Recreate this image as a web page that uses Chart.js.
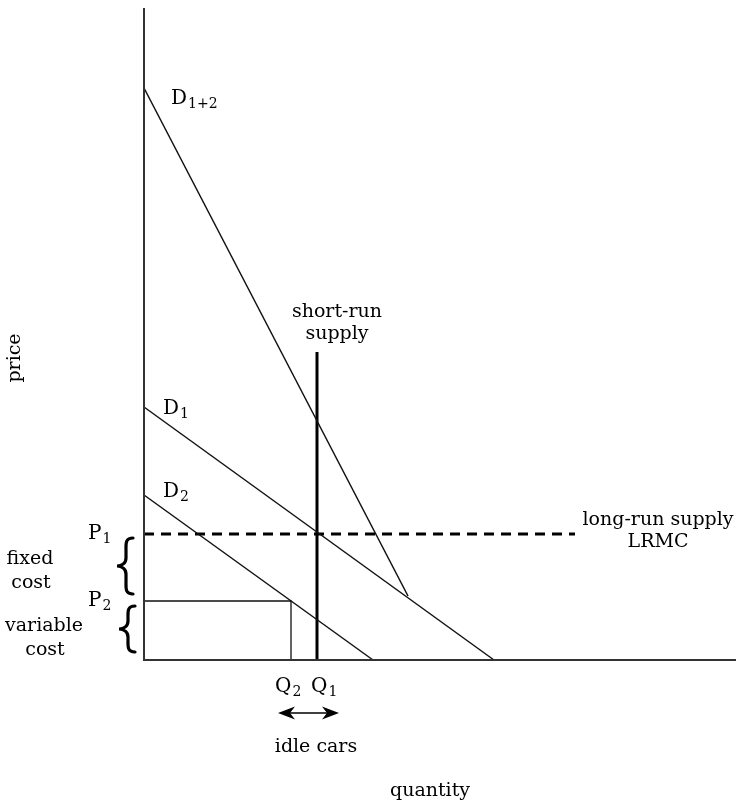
<!DOCTYPE html>
<html>
<head>
<meta charset="utf-8">
<script src="https://cdn.jsdelivr.net/npm/chart.js@4.4.1/dist/chart.umd.min.js"></script>
<style>
  html, body { margin: 0; padding: 0; background: #fff; }
  canvas { display: block; }
</style>
</head>
<body>
<canvas id="myChart" width="736" height="801"></canvas>
<script>
// quantity / price in chart units (0,0 = origin)
const qMax = 592;
const pMax = 652;

const d12Q = [0, 264];
const d12P = [572, 64];
const d1Q = [0, 350];
const d1P = [253, 0];
const d2Q = [0, 229];
const d2P = [165, 0];
const supplyQ = [173, 173];
const supplyP = [308, 0];
const lrmcQ = [0, 431];
const lrmcP = [126, 126];
const boxQ = [0, 147, 147];
const boxP = [59, 59, 0];
const axisQ = [0, 0, qMax];
const axisP = [pMax, 0, 0];

// tick-like labels
const qTicks = [{ q: 147, main: 'Q', sub: '2' }, { q: 173, main: 'Q', sub: '1' }];
const pTicks = [{ p: 126, main: 'P', sub: '1' }, { p: 59, main: 'P', sub: '2' }];

const SERIF = '"DejaVu Serif", serif';

function pts(xs, ys) {
  return xs.map((x, i) => ({ x: x, y: ys[i] }));
}

function lineSet(xs, ys, color, width, dash) {
  return {
    data: pts(xs, ys),
    showLine: true,
    borderColor: color,
    borderWidth: width,
    borderDash: dash || [],
    pointRadius: 0,
    fill: false,
    clip: false,
    tension: 0
  };
}

function subText(ctx, x, y, main, sub, size) {
  // main letter + subscript, x = left edge, y = baseline
  ctx.font = size + 'px ' + SERIF;
  ctx.textAlign = 'left';
  ctx.textBaseline = 'alphabetic';
  ctx.fillText(main, x, y);
  const w = ctx.measureText(main).width;
  ctx.font = Math.round(size * 0.68) + 'px ' + SERIF;
  ctx.fillText(sub, x + w + 1, y + 4);
}

function brace(ctx, x, top, bottom) {
  const mid = (top + bottom) / 2;
  const w = 9;
  ctx.save();
  ctx.lineWidth = 3.2;
  ctx.strokeStyle = '#000';
  ctx.lineCap = 'round';
  ctx.beginPath();
  ctx.moveTo(x + w, top);
  ctx.bezierCurveTo(x + 1, top, x + 2, top + 6, x + 2, top + 12);
  ctx.lineTo(x + 2, mid - 8);
  ctx.bezierCurveTo(x + 2, mid - 3, x - 2, mid, x - w + 2, mid);
  ctx.bezierCurveTo(x - 2, mid, x + 2, mid + 3, x + 2, mid + 8);
  ctx.lineTo(x + 2, bottom - 12);
  ctx.bezierCurveTo(x + 2, bottom - 6, x + 1, bottom, x + w, bottom);
  ctx.stroke();
  ctx.restore();
}

function arrowHead(ctx, x, y, dir) {
  ctx.beginPath();
  ctx.moveTo(x, y);
  ctx.lineTo(x - dir * 17, y - 6.5);
  ctx.lineTo(x - dir * 12, y);
  ctx.lineTo(x - dir * 17, y + 6.5);
  ctx.closePath();
  ctx.fill();
}

const labels = {
  id: 'labels',
  afterDatasetsDraw(chart) {
    const ctx = chart.ctx;
    const xs = chart.scales.x;
    const ys = chart.scales.y;
    const X = v => xs.getPixelForValue(v);
    const Y = v => ys.getPixelForValue(v);
    ctx.save();
    ctx.fillStyle = '#000';

    // demand curve labels
    subText(ctx, X(27), Y(556), 'D', '1+2', 20);
    subText(ctx, X(19), Y(246), 'D', '1', 20);
    subText(ctx, X(19), Y(163), 'D', '2', 20);

    ctx.font = '19px ' + SERIF;
    ctx.textAlign = 'center';
    ctx.textBaseline = 'alphabetic';
    ctx.fillText('short-run', X(193), Y(343));
    ctx.fillText('supply', X(193), Y(321));
    ctx.fillText('long-run supply', X(514), Y(135));
    ctx.fillText('LRMC', X(514), Y(113));

    // price tick labels
    pTicks.forEach(t => subText(ctx, X(-56), Y(t.p) + 5, t.main, t.sub, 20));
    // quantity tick labels
    qTicks.forEach((t, i) => subText(ctx, X(t.q) - (i === 0 ? 16 : 6), Y(0) + 32, t.main, t.sub, 20));

    ctx.font = '19px ' + SERIF;
    ctx.textAlign = 'center';
    ctx.fillText('fixed', 30, Y(96));
    ctx.fillText('cost', 31, Y(72));
    ctx.fillText('variable', 44, Y(29));
    ctx.fillText('cost', 45, Y(5));

    brace(ctx, 124, Y(122), Y(66));
    brace(ctx, 126, Y(54), Y(8));

    // idle cars arrow
    const ay = Y(0) + 53;
    ctx.lineWidth = 1.5;
    ctx.strokeStyle = '#000';
    ctx.beginPath();
    ctx.moveTo(X(136) + 6, ay);
    ctx.lineTo(X(194) - 6, ay);
    ctx.stroke();
    arrowHead(ctx, X(134), ay, -1);
    arrowHead(ctx, X(195), ay, 1);
    ctx.fillText('idle cars', X(172), Y(0) + 92);

    ctx.fillText('quantity', X(286), Y(0) + 136);

    ctx.translate(20, 358);
    ctx.rotate(-Math.PI / 2);
    ctx.fillText('price', 0, 0);
    ctx.restore();
  }
};

new Chart(document.getElementById('myChart').getContext('2d'), {
  type: 'scatter',
  data: {
    datasets: [
      lineSet(axisQ, axisP, '#333', 2),
      lineSet(d12Q, d12P, '#111', 1.5),
      lineSet(d1Q, d1P, '#111', 1.5),
      lineSet(d2Q, d2P, '#111', 1.5),
      lineSet(boxQ, boxP, '#111', 1.3),
      lineSet(lrmcQ, lrmcP, '#000', 3, [10, 7]),
      lineSet(supplyQ, supplyP, '#000', 3)
    ]
  },
  options: {
    responsive: false,
    animation: false,
    layout: { padding: { left: 144, right: 0, top: 8, bottom: 141 } },
    plugins: { legend: { display: false }, tooltip: { enabled: false } },
    scales: {
      x: { type: 'linear', min: 0, max: qMax, display: false },
      y: { type: 'linear', min: 0, max: pMax, display: false }
    }
  },
  plugins: [labels]
});
</script>
</body>
</html>
